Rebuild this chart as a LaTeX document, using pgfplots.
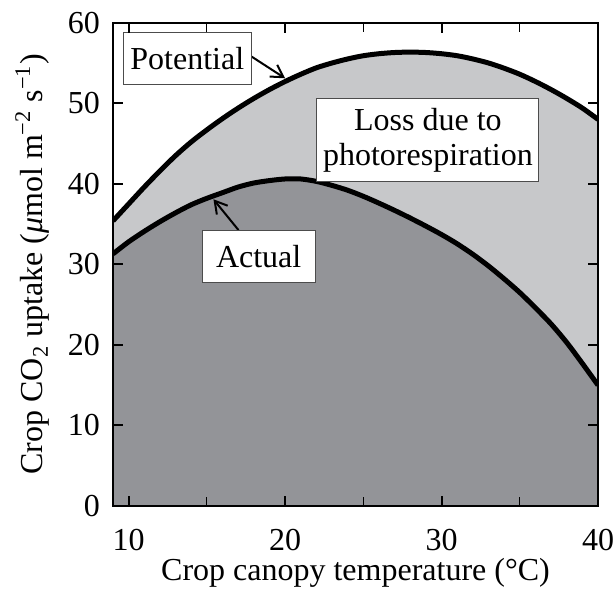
\documentclass[border=0pt]{standalone}
\usepackage{fontspec}
\setmainfont{Liberation Serif}
\usepackage{pgfplots}
\pgfplotsset{compat=1.18}
\usetikzlibrary{arrows.meta}
\definecolor{lightg}{RGB}{199,200,202}
\definecolor{darkg}{RGB}{147,148,152}
\pgfplotstableread{
T P
9 35.4
10 37.5
11 39.6
12 41.6
13 43.5
14 45.2
15 46.7
16 48.1
17 49.4
18 50.6
19 51.7
20 52.7
21 53.6
22 54.4
23 55.0
24 55.5
25 55.9
26 56.15
27 56.3
28 56.35
29 56.3
30 56.15
31 55.9
32 55.5
33 55.0
34 54.35
35 53.6
36 52.7
37 51.7
38 50.6
39 49.4
40 48.0
}\potential
\pgfplotstableread{
T A
9 31.3
10 32.8
11 34.1
12 35.3
13 36.4
14 37.4
15 38.2
16 38.9
17 39.6
18 40.1
19 40.4
20 40.6
21 40.6
22 40.3
23 39.8
24 39.2
25 38.45
26 37.6
27 36.7
28 35.75
29 34.75
30 33.7
31 32.55
32 31.25
33 29.8
34 28.2
35 26.5
36 24.6
37 22.6
38 20.3
39 17.7
40 15.0
}\actual
\begin{document}
\begin{tikzpicture}
\begin{axis}[
  scale only axis,
  width=242.5bp, height=241.65bp,
  xmin=9, xmax=40, ymin=0, ymax=60,
  xtick={10,20,30,40}, ytick={0,10,20,30,40,50,60},
  minor xtick={15,25,35},
  tick align=inside,
  major tick length=5bp, minor tick length=4.5bp,
  every major tick/.style={line width=1bp, black},
  every minor tick/.style={line width=0.5bp, black},
  axis line style={line width=1.2bp},
  axis on top,
  font=\fontsize{16bp}{18bp}\selectfont,
  /pgf/number format/assume math mode=true,
  xticklabel style={inner sep=0pt, yshift=-11.5bp},
  yticklabel style={xshift=-3bp},
  xlabel={Crop canopy temperature (°C)},
  ylabel={Crop CO\textsubscript{2} uptake (\textit{μ}mol m\textsuperscript{−2} s\textsuperscript{−1})},
  xlabel style={at={(axis description cs:0.5,-0.155)}, anchor=base, inner sep=0pt},
  ylabel style={at={(axis description cs:-0.145,0.5)}, anchor=base, inner sep=0pt},
]
\addplot[draw=none, fill=lightg, smooth] table[x=T,y=P]{\potential} \closedcycle;
\addplot[draw=none, fill=darkg, smooth] table[x=T,y=A]{\actual} \closedcycle;
\addplot[line width=2.5bp, black, smooth] table[x=T,y=P]{\potential};
\addplot[line width=2.5bp, black, smooth] table[x=T,y=A]{\actual};
\draw[line width=1bp, -{Straight Barb[length=6bp,width=7bp]}] (axis cs:17.87,55.78) -- (axis cs:20.0,53.1);
\draw[line width=1bp, -{Straight Barb[length=6bp,width=7bp]}] (axis cs:17.02,34.26) -- (axis cs:15.42,38.08);
\node[fill=white, draw=black!70, line width=0.5bp, minimum width=64bp, minimum height=26bp, inner sep=2bp] at (axis cs:13.75,55.5) {Potential};
\node[fill=white, draw=black!70, line width=0.5bp, minimum width=56.5bp, minimum height=26bp, inner sep=2bp] at (axis cs:18.31,31.0) {Actual};
\node[fill=white, draw=black!70, line width=0.5bp, minimum width=111bp, minimum height=41.5bp, inner sep=2bp, align=center] at (axis cs:29.13,45.4) {Loss due to\\[-0.5bp]photorespiration};
\coordinate (bbl) at (rel axis cs:-0.2330,-0.1759);
\coordinate (btr) at (rel axis cs:1.0330,1.0470);
\end{axis}
\pgfresetboundingbox
\path (bbl) rectangle (btr);
\end{tikzpicture}
\end{document}
